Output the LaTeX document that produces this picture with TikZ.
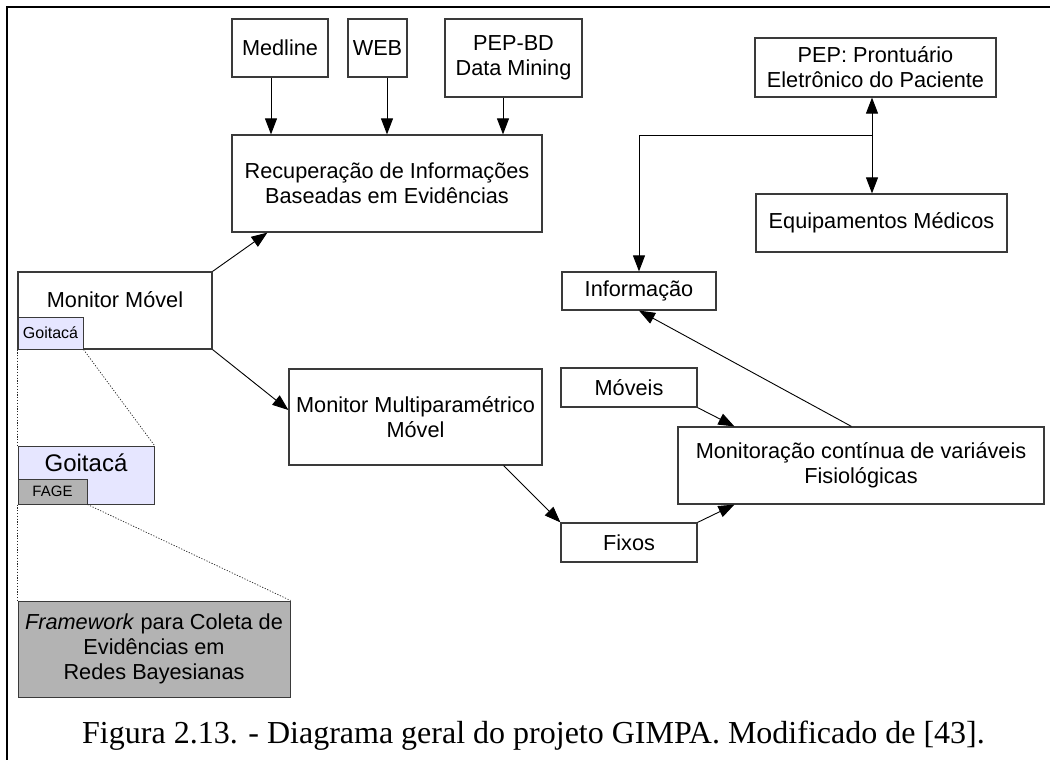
\documentclass[tikz,border=0pt]{standalone}
\usepackage{fontspec}
\setmainfont{Liberation Sans}
\newfontfamily\captionserif{Liberation Serif}
\usetikzlibrary{arrows.meta}
\definecolor{lavender}{HTML}{E6E6FF}
\definecolor{panelgray}{HTML}{B3B3B3}
\definecolor{edge}{HTML}{3A3A3A}

% box given by its corners (x1,y1)-(x2,y2): name, x1, y1, x2, y2, extra style, text
\newcommand\blockbox[7]{%
  \node[block,#6,minimum width={(#4-#2)*1pt},minimum height={(#5-#3)*1pt}]
    (#1) at ({(#2+#4)/2},{(#3+#5)/2}) {#7};}

\begin{document}
\begin{tikzpicture}[x=1pt,y=-1pt,
  block/.style={draw=edge, line width=1.2pt, inner sep=0pt, align=center,
                font=\fontsize{21.7}{25}\selectfont},
  plain/.style={inner sep=0pt, align=center, font=\fontsize{21.7}{25}\selectfont},
  link/.style={draw=black, line width=0.9pt, -{Triangle[length=16pt,width=12pt]}},
  duallink/.style={draw=black, line width=0.9pt,
                   {Triangle[length=16pt,width=12pt]}-{Triangle[length=16pt,width=12pt]}},
  zoomline/.style={draw=black!85, line width=0.7pt, dash pattern=on 1.2pt off 1.6pt}]
\useasboundingbox (0,0) rectangle (1050,760);
\fill[white] (0,0) rectangle (1050,760);

% frame
\coordinate (corner) at (7,7);
\draw[line width=1.4pt] (1050,7) -- (corner) -- (7,760);

% sources
\blockbox{medline}{232}{19}{328}{77}{}{Medline}
\blockbox{web}{348}{19}{407}{77}{}{WEB}
\blockbox{pepbd}{445}{19}{582}{97}{}{PEP-BD\\Data Mining}
\blockbox{recup}{232}{135}{542}{232}{}{Recuperação de Informações\\Baseadas em Evidências}

% patient record side
\blockbox{pep}{755}{38}{996}{97}{}{PEP: Prontuário\\Eletrônico do Paciente}
\blockbox{equip}{756}{194}{1007}{252}{}{Equipamentos Médicos}
\blockbox{info}{562}{272}{716}{310}{}{Informação}

% mobile monitor and zoomed details
\blockbox{mobile}{18}{272}{212}{349}{}{}
\node[plain] (mobiletxt) at (115,300) {Monitor Móvel};
\blockbox{goismall}{18}{317}{83}{349}{fill=lavender, line width=1pt, font=\fontsize{16}{18}\selectfont}{Goitacá}
\blockbox{goibig}{18}{446}{154}{504}{fill=lavender, line width=1pt}{}
\node[plain, font=\fontsize{24}{28}\selectfont] (goibigtxt) at (86,463) {Goitacá};
\blockbox{fage}{18}{479}{87}{504}{fill=panelgray, line width=1pt, font=\fontsize{15}{17}\selectfont}{FAGE}
\blockbox{fage2}{18}{601}{290}{697}{fill=panelgray, line width=1pt}{\textit{Framework} para Coleta de\\Evidências em\\Redes Bayesianas}

% monitoring
\blockbox{multi}{289}{369}{542}{465}{}{Monitor Multiparamétrico\\Móvel}
\blockbox{moveis}{561}{368}{697}{407}{}{Móveis}
\blockbox{fixos}{561}{523}{697}{562}{}{Fixos}
\blockbox{contin}{678}{427}{1044}{504}{}{Monitoração contínua de variáveis\\Fisiológicas}

% connectors
\draw[link] ([xshift=-9pt]medline.south) -- ([xshift=-9pt]medline.south |- recup.north);
\draw[link] ([xshift=9.5pt]web.south) -- ([xshift=9.5pt]web.south |- recup.north);
\draw[link] ([xshift=-10.5pt]pepbd.south) -- ([xshift=-10.5pt]pepbd.south |- recup.north);
\draw[link] (mobile.north east) -- ([xshift=36pt]recup.south west);
\draw[link] (mobile.south east) -- ([yshift=7pt]multi.west);
\draw[link] ([xshift=-39pt]multi.south east) -- (fixos.north west);
\draw[link] (moveis.south east) -- ([xshift=57pt]contin.north west);
\draw[link] (fixos.north east) -- ([xshift=57pt]contin.south west);
\draw[link] ([xshift=174pt]contin.north west) -- (info.south);
\draw[duallink] ([xshift=-3.5pt]pep.south) -- ([xshift=-3.5pt]pep.south |- equip.north);
\coordinate (branch) at ([xshift=-3.5pt]pep.south |- 0,135);
\draw[link] (branch) -| (info.north);

% zoom guides
\draw[zoomline] (goismall.south west) -- (goibig.north west);
\draw[zoomline] (goismall.south east) -- (goibig.north east);
\draw[zoomline] (goibig.south west) -- (fage2.north west);
\draw[zoomline] (fage.south east) -- (fage2.north east);

% caption
\node[inner sep=0pt, anchor=base west, font=\captionserif\fontsize{32}{38}\selectfont]
  (caption) at (82,743) {Figura 2.13. - Diagrama geral do projeto GIMPA. Modificado de [43].};
\end{tikzpicture}
\end{document}
